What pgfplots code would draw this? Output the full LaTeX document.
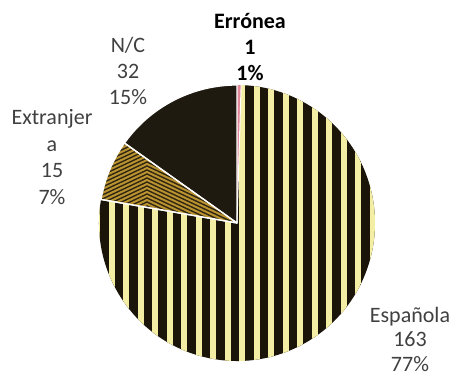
\documentclass[border=0pt]{standalone}
\usepackage{pgfplots}
\pgfplotsset{compat=1.18}
\usepackage{pgfplotstable}
\usepackage{fontspec}
\setmainfont{Carlito}
\definecolor{stripeY}{HTML}{F4EDA4}
\definecolor{stripeK}{HTML}{1A1409}
\definecolor{nc}{HTML}{1E1A10}
\definecolor{gold}{HTML}{B8922E}
\definecolor{goldK}{HTML}{2E2412}
\definecolor{err}{HTML}{E08898}
\definecolor{lbl}{HTML}{404040}

\pgfplotstableread{
name value
NC 32
Extranjera 15
Espanola 163
Erronea 1
}\piedata

\begin{document}
\begin{tikzpicture}
\pgfplotstablegetelem{0}{value}\of\piedata \let\vNC\pgfplotsretval
\pgfplotstablegetelem{1}{value}\of\piedata \let\vEx\pgfplotsretval
\pgfplotstablegetelem{2}{value}\of\piedata \let\vEs\pgfplotsretval
\pgfplotstablegetelem{3}{value}\of\piedata \let\vEr\pgfplotsretval
\pgfmathsetmacro\tot{\vNC+\vEx+\vEs+\vEr}
\pgfmathsetmacro\aA{90}
\pgfmathsetmacro\aB{90+\vNC/\tot*360}
\pgfmathsetmacro\aC{\aB+\vEx/\tot*360}
\pgfmathsetmacro\aD{\aC+\vEs/\tot*360}
\pgfmathsetmacro\aE{\aD+\vEr/\tot*360}
\begin{axis}[name=ax,width=449bp,height=380bp,scale only axis,
  xmin=0,xmax=449,ymin=0,ymax=380,hide axis,clip=false]
% N/C
\fill[nc] (axis cs:237,157) -- ++(\aA:138bp) arc[start angle=\aA,end angle=\aB,radius=138bp] -- cycle;
% Extranjera (chevrons)
\begin{scope}
\clip (axis cs:237,157) -- ++(\aB:138bp) arc[start angle=\aB,end angle=\aC,radius=138bp] -- cycle;
\fill[goldK] (axis cs:80,140) rectangle (axis cs:260,260);
\pgfplotsinvokeforeach{140,144,...,300}{
  \draw[gold,line width=2bp] ([yshift=-26.8bp]axis cs:90,#1) -- (axis cs:147,#1) -- ([yshift=-46bp]axis cs:245,#1);
}
\end{scope}
% Espanola (vertical stripes)
\begin{scope}
\clip (axis cs:237,157) -- ++(\aC:138bp) arc[start angle=\aC,end angle=\aD,radius=138bp] -- cycle;
\fill[stripeK] (axis cs:90,10) rectangle (axis cs:390,300);
\pgfplotsinvokeforeach{97,111.5,...,390}{
  \draw[stripeY,line width=6bp] (axis cs:#1,10) -- (axis cs:#1,300);
}
\end{scope}
% Erronea
\fill[err] (axis cs:237,157) -- ++(\aD:138bp) arc[start angle=\aD,end angle=\aE,radius=138bp] -- cycle;
% white borders
\draw[white,line width=1.3bp,line join=round] (axis cs:237,157) -- ++(\aA:138bp) arc[start angle=\aA,end angle=\aB,radius=138bp] -- cycle;
\draw[white,line width=1.3bp,line join=round] (axis cs:237,157) -- ++(\aB:138bp) arc[start angle=\aB,end angle=\aC,radius=138bp] -- cycle;
\draw[white,line width=1.3bp,line join=round] (axis cs:237,157) -- ++(\aC:138bp);
\draw[white,line width=1bp] (axis cs:237,157) -- ++(\aD:138bp);
% labels
\node[align=center,font=\fontsize{22bp}{26bp}\selectfont\bfseries,text=black] at (axis cs:250,333) {Errónea\\1\\1\%};
\node[align=center,font=\fontsize{22bp}{26bp}\selectfont,text=lbl] at (axis cs:128,309) {N/C\\32\\15\%};
\node[align=center,font=\fontsize{22bp}{26.5bp}\selectfont,text=lbl] at (axis cs:52,223) {Extranjer\\a\\15\\7\%};
\node[align=center,font=\fontsize{22bp}{24.5bp}\selectfont,text=lbl] at (axis cs:410,41) {Española\\163\\77\%};
\end{axis}
\pgfresetboundingbox
\path[use as bounding box] (ax.south west) rectangle (ax.north east);
\end{tikzpicture}
\end{document}
